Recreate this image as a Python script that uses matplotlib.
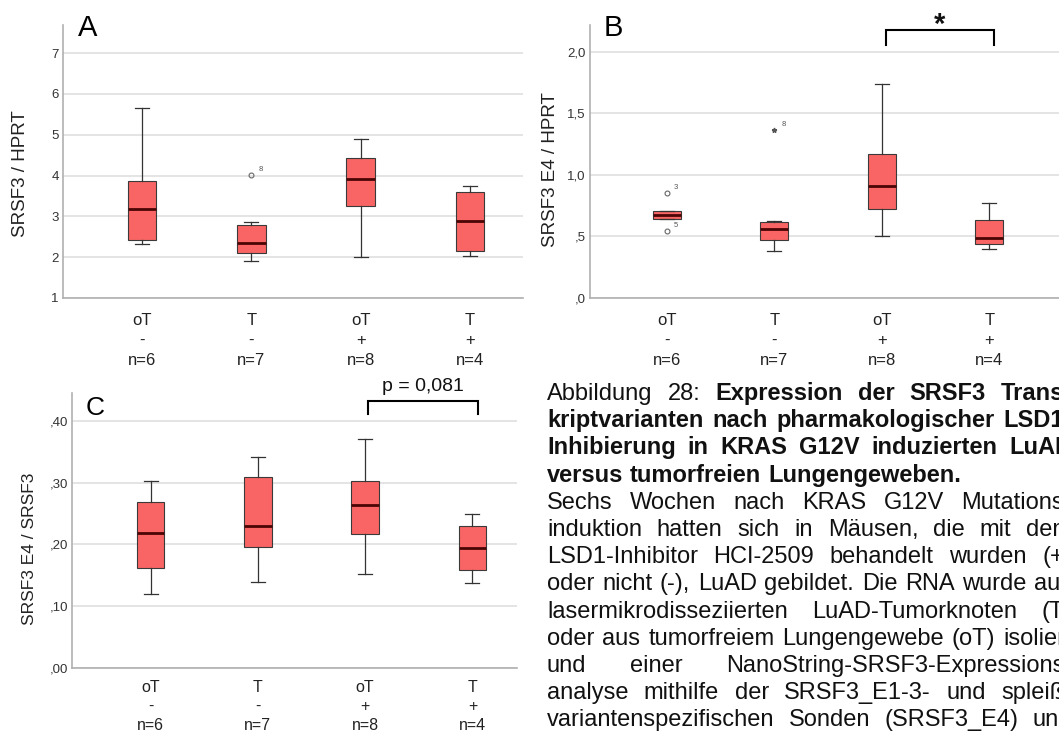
import matplotlib
matplotlib.use('Agg')
import matplotlib.pyplot as plt

plt.rcParams['font.family'] = 'Liberation Sans'

# --- Daten ---
groups = ['oT\n-\nn=6', 'T\n-\nn=7', 'oT\n+\nn=8', 'T\n+\nn=4']

# A: SRSF3 / HPRT
a_whislo = [2.33, 1.91, 2.00, 2.02]
a_q1 = [2.42, 2.10, 3.25, 2.15]
a_med = [3.19, 2.35, 3.91, 2.88]
a_q3 = [3.86, 2.80, 4.44, 3.60]
a_whishi = [5.65, 2.85, 4.89, 3.74]
a_out = [[], [4.02], [], []]
a_out_ids = [[], ['8'], [], []]
a_yticks = [1, 2, 3, 4, 5, 6, 7]
a_ylabels = ['1', '2', '3', '4', '5', '6', '7']

# B: SRSF3 E4 / HPRT
b_whislo = [0.642, 0.382, 0.507, 0.401]
b_q1 = [0.642, 0.469, 0.721, 0.436]
b_med = [0.670, 0.561, 0.908, 0.485]
b_q3 = [0.705, 0.615, 1.168, 0.637]
b_whishi = [0.705, 0.626, 1.740, 0.775]
b_out = [[0.853, 0.543], [], [], []]
b_out_ids = [['3', '5'], [], [], []]
b_ext = [[], [1.363], [], []]
b_ext_ids = [[], ['8'], [], []]
b_yticks = [0.0, 0.5, 1.0, 1.5, 2.0]
b_ylabels = [',0', ',5', '1,0', '1,5', '2,0']

# C: SRSF3 E4 / SRSF3
c_whislo = [0.120, 0.139, 0.152, 0.138]
c_q1 = [0.162, 0.195, 0.216, 0.158]
c_med = [0.219, 0.229, 0.263, 0.194]
c_q3 = [0.269, 0.309, 0.302, 0.229]
c_whishi = [0.302, 0.342, 0.370, 0.249]
c_yticks = [0.0, 0.1, 0.2, 0.3, 0.4]
c_ylabels = [',00', ',10', ',20', ',30', ',40']

caption = [
    ("Abbildung 28:", "Expression der SRSF3 Trans-", True),
    ("", "kriptvarianten nach pharmakologischer LSD1-", True),
    ("", "Inhibierung in KRAS G12V induzierten LuAD", True),
    ("", "versus tumorfreien Lungengeweben.", False),
    ("Sechs Wochen nach KRAS G12V Mutations-", "", True),
    ("induktion hatten sich in Mäusen, die mit dem", "", True),
    ("LSD1-Inhibitor HCI-2509 behandelt wurden (+)", "", True),
    ("oder nicht (-), LuAD gebildet. Die RNA wurde aus", "", True),
    ("lasermikrodisseziierten LuAD-Tumorknoten (T)", "", True),
    ("oder aus tumorfreiem Lungengewebe (oT) isoliert", "", True),
    ("und einer NanoString-SRSF3-Expressions-", "", True),
    ("analyse mithilfe der SRSF3_E1-3- und spleiß-", "", True),
    ("variantenspezifischen Sonden (SRSF3_E4) und", "", True),
]

W, H = 1059, 734
BOX_COLOR = '#F96565'
fig = plt.figure(figsize=(W / 100, H / 100), dpi=100)


def add_ax(l, t, r, b):
    return fig.add_axes([l / W, 1 - b / H, (r - l) / W, (b - t) / H])


def boxpanel(ax, whislo, q1, med, q3, whishi, out, yticks, ylabels, ylim, xlim,
             lsp=1.42, xpad=11, xfs=12):
    stats = []
    for i in range(len(med)):
        stats.append(dict(whislo=whislo[i], q1=q1[i], med=med[i], q3=q3[i],
                          whishi=whishi[i], fliers=out[i]))
    ax.bxp(stats, positions=[1, 2, 3, 4], widths=0.26, capwidths=0.13,
           patch_artist=True,
           boxprops=dict(facecolor=BOX_COLOR, edgecolor='#3a3a3a', linewidth=0.8),
           medianprops=dict(color='#4a0505', linewidth=2.0),
           whiskerprops=dict(color='#333333', linewidth=0.9),
           capprops=dict(color='#333333', linewidth=0.9),
           flierprops=dict(marker='o', markersize=3.5, markerfacecolor='none',
                           markeredgecolor='#666666', markeredgewidth=0.8))
    ax.set_xlim(*xlim)
    ax.set_ylim(*ylim)
    ax.set_yticks(yticks)
    ax.set_yticklabels(ylabels)
    ax.set_xticks([1, 2, 3, 4])
    ax.set_xticklabels(groups, fontsize=xfs, linespacing=lsp, color='#222222')
    ax.tick_params(axis='x', length=0, pad=xpad)
    ax.tick_params(axis='y', length=0, pad=3, labelsize=9.5, labelcolor='#333333')
    ax.grid(axis='y', color='#dcdcdc', linewidth=1.1)
    ax.set_axisbelow(True)
    for s in ['top', 'right']:
        ax.spines[s].set_visible(False)
    for s in ['left', 'bottom']:
        ax.spines[s].set_color('#b0b0b0')
        ax.spines[s].set_linewidth(1.2)


def label_points(ax, vals, ids, dx=5, dy=4):
    for i, (vs, ls) in enumerate(zip(vals, ids)):
        for v, lab in zip(vs, ls):
            ax.annotate(lab, (i + 1, v), xytext=(dx, dy), textcoords='offset points',
                        fontsize=5.5, color='#555555', ha='left', va='center')


def bracket(ax, x1, x2, y_top, y_end, text, fs, ty, weight='normal'):
    ax.plot([x1, x1, x2, x2], [y_end, y_top, y_top, y_end], color='black',
            linewidth=1.5, clip_on=False, solid_joinstyle='miter')
    ax.text((x1 + x2) / 2, ty, text, ha='center', va='center', fontsize=fs,
            fontweight=weight, clip_on=False, color='#111111')


# --- A ---
axA = add_ax(63, 25, 523, 298)
boxpanel(axA, a_whislo, a_q1, a_med, a_q3, a_whishi, a_out,
         a_yticks, a_ylabels, (1, 7.686), (0.277, 4.485))
label_points(axA, a_out, a_out_ids)
axA.set_ylabel('SRSF3 / HPRT', fontsize=13.5, color='#222222', va='center')
axA.yaxis.set_label_coords(-0.092, 0.454)
fig.text(78 / W, 1 - 36 / H, 'A', fontsize=21, va='baseline', ha='left')

# --- B ---
axB = add_ax(590, 25, 1070, 298)
boxpanel(axB, b_whislo, b_q1, b_med, b_q3, b_whishi, b_out,
         b_yticks, b_ylabels, (0, 2.216), (0.284, 4.75))
label_points(axB, b_out, b_out_ids)
for i, vs in enumerate(b_ext):
    axB.plot([i + 1] * len(vs), vs, marker='*', markersize=3.5, color='#555555',
             linestyle='none')
label_points(axB, b_ext, b_ext_ids)
axB.set_ylabel('SRSF3 E4 / HPRT', fontsize=13.5, color='#222222', va='center')
axB.yaxis.set_label_coords(-0.083, 0.47)
bracket(axB, 3.04, 4.04, 2.175, 2.054, '*', 21, 2.22, weight='bold')
fig.text(604 / W, 1 - 36 / H, 'B', fontsize=21, va='baseline', ha='left')

# --- C ---
axC = add_ax(72, 393, 517, 668)
boxpanel(axC, c_whislo, c_q1, c_med, c_q3, c_whishi, [[], [], [], []],
         c_yticks, c_ylabels, (0, 0.4448), (0.268, 4.415),
         lsp=1.3, xpad=9, xfs=11.5)
axC.set_ylabel('SRSF3 E4 / SRSF3', fontsize=12.5, color='#222222', va='center')
axC.yaxis.set_label_coords(-0.095, 0.433)
bracket(axC, 3.03, 4.05, 0.432, 0.411, 'p = 0,081', 14, 0.455)
fig.text(86 / W, 1 - 415 / H, 'C', fontsize=19, va='baseline', ha='left')

# --- Bildunterschrift (Blocksatz, rechts abgeschnitten wie im Original) ---
FS = 17
X0, R = 547, 1072
Y0, DY = 400, 27.2
renderer = fig.canvas.get_renderer()


def text_width(s, weight):
    t = fig.text(0, 0, s, fontsize=FS, fontweight=weight)
    w = t.get_window_extent(renderer).width
    t.remove()
    return w


space_w = text_width('a a', 'normal') - text_width('aa', 'normal')
for k, (normal, bold, justify) in enumerate(caption):
    words = [(w, 'normal') for w in normal.split()] + [(w, 'bold') for w in bold.split()]
    widths = [text_width(w, wt) for w, wt in words]
    if justify and len(words) > 1:
        gap = (R - X0 - sum(widths)) / (len(words) - 1)
    else:
        gap = space_w
    x = X0
    y = Y0 + k * DY
    for (w, wt), ww in zip(words, widths):
        fig.text(x / W, 1 - y / H, w, fontsize=FS, fontweight=wt,
                 ha='left', va='baseline', color='#111111')
        x += ww + gap

fig.savefig('out.png', dpi=100)
